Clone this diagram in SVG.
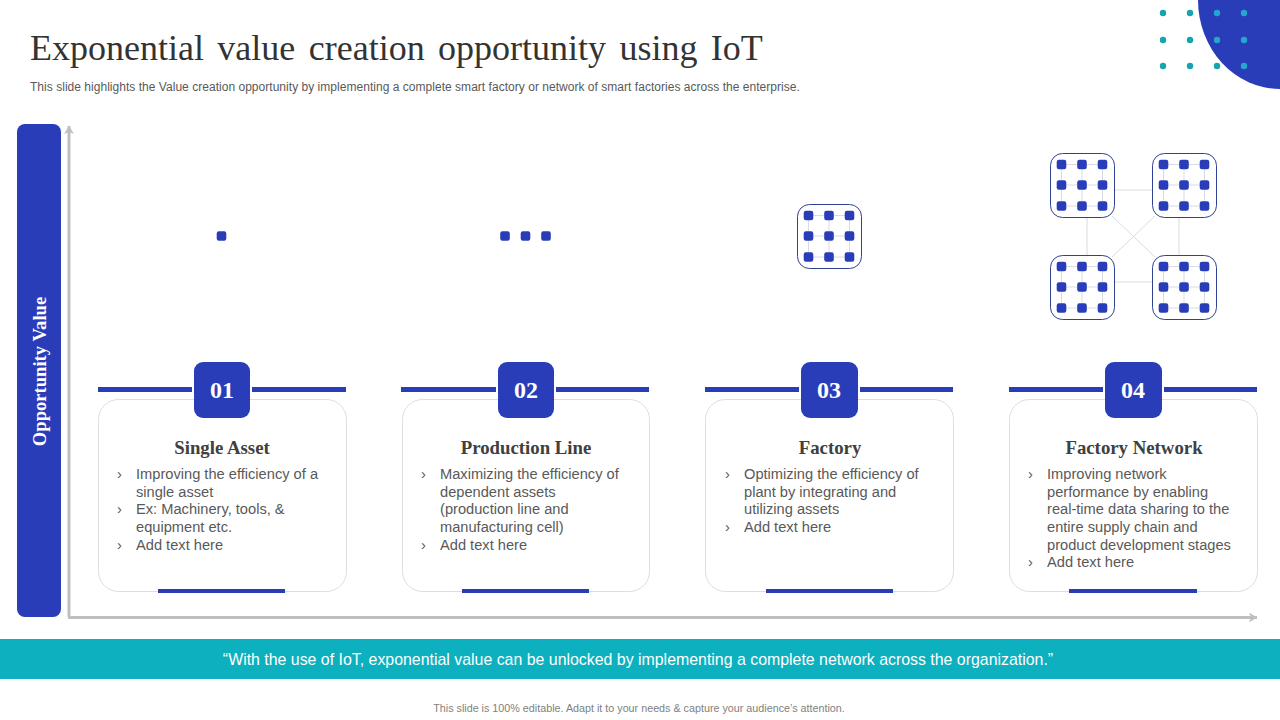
<svg xmlns="http://www.w3.org/2000/svg" width="1280" height="720" viewBox="0 0 1280 720">
<style>
text{font-family:"Liberation Sans",Arial,sans-serif}
.serif{font-family:"Liberation Serif","Times New Roman",serif}
.blue{fill:#2A3DB9}
.num{font-family:"Liberation Serif",serif;font-weight:700;font-size:24px;fill:#fff;text-anchor:middle}
.head{font-family:"Liberation Serif",serif;font-weight:700;font-size:18.800px;fill:#404040;text-anchor:middle}
.body{font-size:14.650px;fill:#595959}
.card{fill:#fff;stroke:#DEDEDE;stroke-width:1}
.thin{stroke:#D8DBE4;stroke-width:1;fill:none}
.axis{stroke:#BFBFBF;stroke-width:3;fill:none}
.tdot{fill:#14A5AE}
.ldot{fill:#25A6CF}
</style>
<defs>
<rect id="d" x="-4.800" y="-4.800" width="9.600" height="9.600" rx="2.200" class="blue"/>
<g id="grid">
<rect x="0.500" y="0.500" width="64" height="64" rx="12" fill="#fff" stroke="#2F4191" stroke-width="1"/>
<path class="thin" d="M11.500 11.500H52.500M11.500 32H52.500M11.500 53H52.500M11.500 11.500V53M32 11.500V53M52.500 11.500V53"/>
<use href="#d" x="11.500" y="11.500"/><use href="#d" x="32" y="11.500"/><use href="#d" x="52.500" y="11.500"/>
<use href="#d" x="11.500" y="32"/><use href="#d" x="32" y="32"/><use href="#d" x="52.500" y="32"/>
<use href="#d" x="11.500" y="53"/><use href="#d" x="32" y="53"/><use href="#d" x="52.500" y="53"/>
</g>
<marker id="ah" markerUnits="userSpaceOnUse" markerWidth="10" markerHeight="10" refX="8" refY="5" orient="auto"><path d="M0 0L8 5L0 10L2 5Z" fill="#BFBFBF"/></marker>
</defs>
<rect width="1280" height="720" fill="#fff"/>

<g id="decor">
<ellipse cx="1280" cy="0" rx="82" ry="89" class="blue"/>
<g class="tdot"><circle cx="1163" cy="13" r="3.200"/><circle cx="1190" cy="13" r="3.200"/><circle cx="1163" cy="40" r="3.200"/><circle cx="1190" cy="40" r="3.200"/><circle cx="1163" cy="66" r="3.200"/><circle cx="1190" cy="66" r="3.200"/><circle cx="1217" cy="66" r="3.200"/></g>
<g class="ldot"><circle cx="1217" cy="13" r="3.200"/><circle cx="1244" cy="13" r="3.200"/><circle cx="1217" cy="40" r="3.200"/><circle cx="1244" cy="40" r="3.200"/><circle cx="1244" cy="66" r="3.200"/></g>
</g>

<text id="title" class="serif" x="30" y="60" font-size="36" fill="#333" word-spacing="4.400">Exponential value creation opportunity using IoT</text>
<text id="subtitle" x="30" y="91" font-size="12" fill="#595959" letter-spacing="0.030">This slide highlights the Value creation opportunity by implementing a complete smart factory or network of smart factories across the enterprise.</text>

<g id="connectors">
<path class="axis" d="M69 617V126" marker-end="url(#ah)"/>
<path class="axis" d="M68 617.500H1257" marker-end="url(#ah)"/>
<path class="thin" d="M1114 190H1152M1114 282H1152M1087 218V255M1179 218V255M1112 216L1155 257M1112 257L1155 216"/>
</g>

<g id="yband"><rect x="17" y="124" width="44" height="493" rx="8" class="blue"/>
<text class="serif" transform="translate(46 371.500) rotate(-90)" font-size="18.600" font-weight="700" fill="#fff" text-anchor="middle">Opportunity Value</text></g>

<g id="icon-single"><use href="#d" x="221.500" y="236"/></g>
<g id="icon-line"><use href="#d" x="505" y="236"/><use href="#d" x="525.500" y="236"/><use href="#d" x="546" y="236"/></g>
<g id="icon-factory"><use href="#grid" x="797" y="204"/></g>
<g id="icon-network"><use href="#grid" x="1050" y="153"/><use href="#grid" x="1152" y="153"/><use href="#grid" x="1050" y="255"/><use href="#grid" x="1152" y="255"/></g>

<g id="card1">
<rect class="card" x="98.500" y="399.500" width="248" height="192" rx="20"/>
<rect class="blue" x="98" y="387" width="248" height="5"/>
<rect x="192" y="387" width="60" height="5" fill="#fff"/>
<rect class="blue" x="194" y="362" width="56" height="56" rx="9"/>
<text class="num" x="222" y="398">01</text>
<text class="head" x="222" y="454">Single Asset</text>
<g class="body"><text x="117" y="479">›</text><text x="136" y="479">Improving the efficiency of a</text><text x="136" y="497">single asset</text><text x="117" y="514">›</text><text x="136" y="514">Ex: Machinery, tools, &amp;</text><text x="136" y="532">equipment etc.</text><text x="117" y="550">›</text><text x="136" y="550">Add text here</text></g>
<rect class="blue" x="158" y="589" width="127" height="4"/>
</g>

<g id="card2">
<rect class="card" x="402.500" y="399.500" width="247" height="192" rx="20"/>
<rect class="blue" x="401" y="387" width="248" height="5"/>
<rect x="496" y="387" width="60" height="5" fill="#fff"/>
<rect class="blue" x="498" y="362" width="56" height="56" rx="9"/>
<text class="num" x="526" y="398">02</text>
<text class="head" x="526" y="454">Production Line</text>
<g class="body"><text x="421" y="479">›</text><text x="440" y="479">Maximizing the efficiency of</text><text x="440" y="497">dependent assets</text><text x="440" y="514">(production line and</text><text x="440" y="532">manufacturing cell)</text><text x="421" y="550">›</text><text x="440" y="550">Add text here</text></g>
<rect class="blue" x="462" y="589" width="127" height="4"/>
</g>

<g id="card3">
<rect class="card" x="705.500" y="399.500" width="248" height="192" rx="20"/>
<rect class="blue" x="705" y="387" width="248" height="5"/>
<rect x="799" y="387" width="61" height="5" fill="#fff"/>
<rect class="blue" x="801" y="362" width="57" height="56" rx="9"/>
<text class="num" x="829" y="398">03</text>
<text class="head" x="830" y="454">Factory</text>
<g class="body"><text x="725" y="479">›</text><text x="744" y="479">Optimizing the efficiency of</text><text x="744" y="497">plant by integrating and</text><text x="744" y="514">utilizing assets</text><text x="725" y="532">›</text><text x="744" y="532">Add text here</text></g>
<rect class="blue" x="766" y="589" width="127" height="4"/>
</g>

<g id="card4">
<rect class="card" x="1009.500" y="399.500" width="248" height="192" rx="20"/>
<rect class="blue" x="1009" y="387" width="248" height="5"/>
<rect x="1103" y="387" width="61" height="5" fill="#fff"/>
<rect class="blue" x="1105" y="362" width="57" height="56" rx="9"/>
<text class="num" x="1133" y="398">04</text>
<text class="head" x="1134" y="454">Factory Network</text>
<g class="body"><text x="1028" y="479">›</text><text x="1047" y="479">Improving network</text><text x="1047" y="497">performance by enabling</text><text x="1047" y="514">real-time data sharing to the</text><text x="1047" y="532">entire supply chain and</text><text x="1047" y="550">product development stages</text><text x="1028" y="567">›</text><text x="1047" y="567">Add text here</text></g>
<rect class="blue" x="1069" y="589" width="128" height="4"/>
</g>

<g id="banner"><rect x="0" y="639" width="1280" height="40" fill="#0CB0BE"/>
<text x="638" y="665" font-size="15.900" fill="#fff" text-anchor="middle">“With the use of IoT, exponential value can be unlocked by implementing a complete network across the organization.”</text></g>
<text id="footer" x="639" y="712" font-size="10.750" fill="#7F7F7F" text-anchor="middle">This slide is 100% editable. Adapt it to your needs &amp; capture your audience’s attention.</text>
</svg>
